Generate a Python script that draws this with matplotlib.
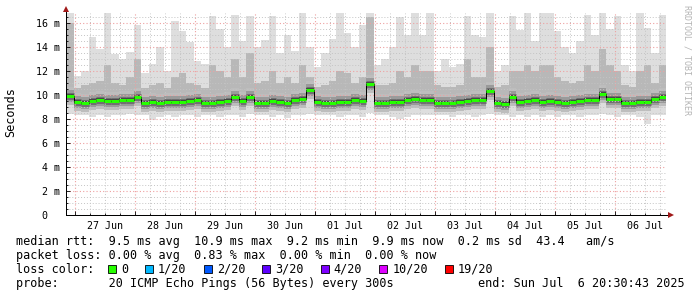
import numpy as np
import pandas as pd
import matplotlib
matplotlib.use("Agg")
import matplotlib.pyplot as plt
import matplotlib.dates as mdates
import matplotlib.ticker as mticker
from matplotlib.patches import Rectangle

W, H = 697, 297

start = pd.Timestamp("2025-06-26 20:30:43")
end = pd.Timestamp("2025-07-06 20:30:43")

# 3 hour bins, values in ms
median = [9.9, 9.4, 9.3, 9.5, 9.6, 9.5, 9.5, 9.6, 9.6, 9.8, 9.3, 9.4, 9.35, 9.4, 9.45, 9.4,
          9.5, 9.6, 9.3, 9.3, 9.4, 9.5, 9.8, 9.5, 9.8, 9.3, 9.3, 9.5, 9.4, 9.35, 9.6, 9.7,
          10.4, 9.4, 9.3, 9.35, 9.4, 9.4, 9.6, 9.5, 10.9, 9.3, 9.35, 9.4, 9.45, 9.6, 9.7, 9.55,
          9.6, 9.35, 9.3, 9.35, 9.45, 9.5, 9.55, 9.6, 10.3, 9.3, 9.25, 9.8, 9.45, 9.5, 9.6, 9.4,
          9.5, 9.4, 9.35, 9.4, 9.5, 9.55, 9.6, 10.1, 9.65, 9.7, 9.3, 9.3, 9.4, 9.45, 9.7, 9.8]
top = [16.8, 11.6, 12.0, 14.8, 13.8, 16.8, 13.4, 13.0, 13.6, 15.8, 11.8, 12.6, 14.0, 12.0, 16.2, 15.3,
       14.4, 12.8, 12.6, 16.6, 15.5, 14.0, 16.7, 14.5, 16.6, 14.0, 14.6, 16.6, 13.5, 15.0, 13.7, 16.8,
       14.0, 12.3, 13.5, 14.7, 16.8, 15.2, 14.0, 15.8, 16.9, 12.5, 13.0, 14.0, 16.5, 15.0, 16.8, 15.0,
       16.8, 12.0, 13.0, 12.3, 12.6, 16.6, 15.0, 14.8, 16.8, 12.0, 12.5, 16.6, 15.4, 16.8, 14.5, 16.8,
       16.8, 15.3, 14.0, 13.5, 14.5, 16.7, 15.0, 16.8, 15.5, 16.6, 12.5, 12.0, 16.8, 15.6, 13.5, 16.7]
mid = [16.0, 10.6, 10.8, 11.0, 11.2, 12.5, 11.0, 10.8, 11.5, 13.0, 10.6, 10.8, 11.0, 10.6, 11.5, 11.8,
       11.0, 10.8, 10.6, 12.5, 12.0, 11.5, 13.0, 11.5, 13.5, 11.0, 11.2, 12.0, 11.0, 11.5, 11.0, 12.5,
       11.5, 10.7, 10.8, 11.2, 12.0, 11.8, 11.0, 11.5, 16.5, 10.8, 10.8, 11.0, 12.0, 11.5, 12.5, 12.0,
       12.0, 10.8, 10.7, 10.7, 10.8, 13.0, 11.5, 11.5, 14.0, 10.7, 10.8, 12.0, 12.0, 12.5, 12.0, 12.5,
       12.5, 11.5, 11.2, 11.0, 11.2, 12.5, 12.0, 13.8, 12.5, 12.0, 10.8, 10.7, 12.0, 12.5, 11.0, 12.5]
bottom = [8.4, 8.3, 8.3, 8.2, 8.3, 8.2, 8.3, 8.3, 8.4, 8.3, 8.3, 7.9, 8.2, 8.3, 8.2, 8.3,
          8.3, 8.2, 8.3, 8.3, 8.2, 8.3, 8.3, 8.2, 8.4, 8.3, 8.3, 8.2, 8.3, 8.1, 8.3, 8.3,
          8.4, 8.3, 8.3, 8.3, 8.2, 8.3, 8.3, 8.2, 8.5, 8.3, 8.3, 8.2, 8.0, 8.2, 8.3, 8.3,
          8.3, 8.3, 8.3, 8.2, 8.3, 8.3, 8.2, 8.3, 8.4, 8.3, 8.3, 8.2, 8.3, 8.2, 8.3, 8.2,
          8.3, 8.2, 8.3, 8.3, 8.2, 8.3, 8.3, 8.4, 8.3, 8.2, 8.3, 8.3, 8.2, 7.6, 8.3, 8.3]

loss_labels = ["0", "1/20", "2/20", "3/20", "4/20", "10/20", "19/20"]
loss_colors = ["#26ff00", "#00b8ff", "#0059ff", "#5e00ff", "#7e00ff", "#dd00ff", "#ff0000"]

rtt_line = "median rtt:  9.5 ms avg  10.9 ms max  9.2 ms min  9.9 ms now  0.2 ms sd  43.4   am/s"
loss_line = "packet loss: 0.00 % avg  0.83 % max  0.00 % min  0.00 % now"
probe_line = "probe:       20 ICMP Echo Pings (56 Bytes) every 300s"
end_line = "end: Sun Jul  6 20:30:43 2025"
credit = "RRDTOOL / TOBI OETIKER"

mono = "DejaVu Sans Mono"
px = 0.72  # points per pixel at 100 dpi

fig = plt.figure(figsize=(W / 100, H / 100), dpi=100)
fig.patch.set_facecolor("white")
ax = fig.add_axes([66 / W, 82 / H, 600 / W, 202.2 / H])

edges = mdates.date2num(pd.date_range(start, periods=len(median) + 1, freq="3h"))

# smoke
ax.stairs(top, edges, baseline=bottom, fill=True, color="#dedede", lw=0, zorder=1)
ax.stairs(mid, edges, baseline=median, fill=True, color="#b8b8b8", lw=0, zorder=1.2)
for w, c in [(18, "#bdbdbd"), (12, "#9a9a9a"), (7, "#707070"), (4, "#474747")]:
    ax.hlines(median, edges[:-1], edges[1:], color=c, lw=w * px, zorder=1.4)

# median
ax.stairs(median, edges, baseline=None, color="black", lw=1 * px, zorder=5)
ax.hlines(median, edges[:-1], edges[1:], color=loss_colors[0], lw=3 * px, zorder=6)

ax.set_xlim(mdates.date2num(start), mdates.date2num(end))
ax.set_ylim(0, 16.85)

# grid
ax.xaxis.set_major_locator(mdates.DayLocator())
ax.xaxis.set_major_formatter(mticker.NullFormatter())
ax.xaxis.set_minor_locator(mdates.HourLocator(byhour=[6, 12, 18]))
ax.xaxis.set_minor_formatter(
    mticker.FuncFormatter(lambda v, p: mdates.num2date(v).strftime("%d %b")
                          if mdates.num2date(v).hour == 12 else ""))
ax.yaxis.set_major_locator(mticker.MultipleLocator(2))
ax.yaxis.set_minor_locator(mticker.MultipleLocator(0.5))
ax.yaxis.set_major_formatter(
    mticker.FuncFormatter(lambda v, p: "0  " if v == 0 else f"{v:.0f} m"))

dots = (0, (1, 2))
ax.grid(which="major", color="#eea0a0", ls=dots, lw=0.8, zorder=3)
ax.grid(which="minor", color="#c4c4c4", ls=dots, lw=0.7, zorder=2.9)
ax.set_axisbelow(False)

ax.tick_params(axis="both", which="both", direction="in", color="black", width=0.6)
ax.tick_params(axis="y", which="major", length=3, pad=4, labelsize=7.2, labelfontfamily=mono)
ax.tick_params(axis="y", which="minor", length=1.5)
ax.tick_params(axis="x", which="major", length=3)
ax.tick_params(axis="x", which="minor", length=1.5, pad=4, labelsize=7.2,
               labelfontfamily=mono)

for s in ["top", "right"]:
    ax.spines[s].set_visible(False)
for s in ["left", "bottom"]:
    ax.spines[s].set_linewidth(1 * px)
    ax.spines[s].set_zorder(7)

# axis extensions with arrow heads
ax.plot([0, 0], [1, 1.012], transform=ax.transAxes, color="black", lw=px, clip_on=False)
ax.plot([1, 1.004], [0, 0], transform=ax.transAxes, color="black", lw=px, clip_on=False)
ax.plot([0], [1.018], marker="^", ms=4.5, color="#a01818", mew=0,
        transform=ax.transAxes, clip_on=False)
ax.plot([1.0085], [0], marker=">", ms=4.5, color="#a01818", mew=0,
        transform=ax.transAxes, clip_on=False)

fig.text(11 / W, 1 - 112.5 / H, "Seconds", rotation=90, ha="center", va="center",
         family=mono, fontsize=8.5)
fig.text(687 / W, 1 - 5 / H, credit, rotation=270, ha="center", va="top",
         family=mono, fontsize=6, color="#b4b4b4")

# legend
fs = 8.5
fig.text(16 / W, 1 - 245 / H, rtt_line, family=mono, fontsize=fs, va="baseline")
fig.text(16 / W, 1 - 259 / H, loss_line, family=mono, fontsize=fs, va="baseline")
fig.text(16 / W, 1 - 273 / H, "loss color:", family=mono, fontsize=fs, va="baseline")
fig.text(16 / W, 1 - 287 / H, probe_line, family=mono, fontsize=fs, va="baseline")
fig.text(478 / W, 1 - 287 / H, end_line, family=mono, fontsize=fs, va="baseline")

cw = 7.13
sx = 108
for lab, col in zip(loss_labels, loss_colors):
    fig.patches.append(Rectangle((sx / W, 1 - 273 / H), 8 / W, 8 / H, transform=fig.transFigure,
                                 facecolor=col, edgecolor="black", lw=0.6))
    fig.text((sx + 13) / W, 1 - 273 / H, lab, family=mono, fontsize=fs, va="baseline")
    sx = sx + 13 + len(lab) * cw + 17

fig.savefig("out.png", dpi=100)
